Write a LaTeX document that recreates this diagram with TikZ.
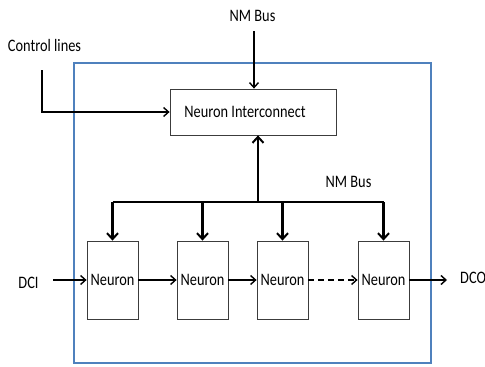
\documentclass[tikz,border=0pt]{standalone}
\usepackage{fontspec}
\setmainfont{Carlito}[FakeStretch=0.82]
\usetikzlibrary{arrows.meta}
\definecolor{frameblue}{RGB}{79,129,189}
\definecolor{boxline}{RGB}{60,60,60}
\begin{document}
\begin{tikzpicture}[x=1pt,y=-1pt,
  every node/.style={font=\fontsize{17.5}{20}\selectfont},
  block/.style={draw=boxline,line width=0.8pt,fill=white,inner sep=0pt},
  neuron/.style={block,minimum width=51pt,minimum height=78pt},
  flow/.style={line width=1.4pt,-{Straight Barb[length=5pt,width=9pt,line width=1.4pt]}},
  bus/.style={line width=2.6pt},
  busarrow/.style={line width=2.2pt,-{Straight Barb[length=6pt,width=11pt,line width=2pt]}},
  lbl/.style={inner sep=0pt}]
\useasboundingbox (0,0) rectangle (485,367);
% outer frame
\draw[frameblue,line width=1.3pt] (74,63) rectangle (431,363);
% interconnect block
\node[block,minimum width=166pt,minimum height=46pt] (ic) at (253,112) {\hspace*{-16pt}Neuron Interconnect};
% neuron chain
\node[neuron] (n1) at (112.5,280) {Neuron};
\node[neuron] (n2) at (202.5,280) {Neuron};
\node[neuron] (n3) at (282.5,280) {Neuron};
\node[neuron] (n4) at (383.5,280) {Neuron};
% labels
\node[lbl] (nmtop) at (252.5,16) {NM Bus};
\node[lbl] (ctl) at (44.5,45.5) {Control lines};
\node[lbl] (nmbus) at (348.5,182) {NM Bus};
\node[lbl] (dci) at (28.5,282.5) {DCI};
\node[lbl,anchor=west] (dco) at (460,278) {DCO};
% connector end points
\coordinate (nmin) at (254,31);
\coordinate (ctlstart) at (42,70);
\coordinate (ctlbend) at (42,112);
\coordinate (busL) at (112.5,202);
\coordinate (busR) at (384,202);
\coordinate (busM) at (258,202);
\coordinate (dciend) at (53,280);
\coordinate (dcoend) at (447,280);
% inputs to interconnect
\draw[flow] (nmin) -- (nmin |- ic.north);
\draw[flow] (ctlstart) -- (ctlbend) -- (ic.west |- ctlbend);
% NM bus
\draw[bus] (busL) -- (busR);
\draw[busarrow] (busM) -- (busM |- ic.south);
\foreach \n in {n1,n2,n3,n4}
  \draw[busarrow] (\n.north |- busL) -- (\n.north);
% data chain
\draw[flow] (dciend) -- (n1.west);
\draw[flow] (n1.east) -- (n2.west);
\draw[flow] (n2.east) -- (n3.west);
\draw[flow,dashed,dash pattern=on 6pt off 4pt] (n3.east) -- (n4.west);
\draw[flow] (n4.east) -- (dcoend);
\end{tikzpicture}
\end{document}
